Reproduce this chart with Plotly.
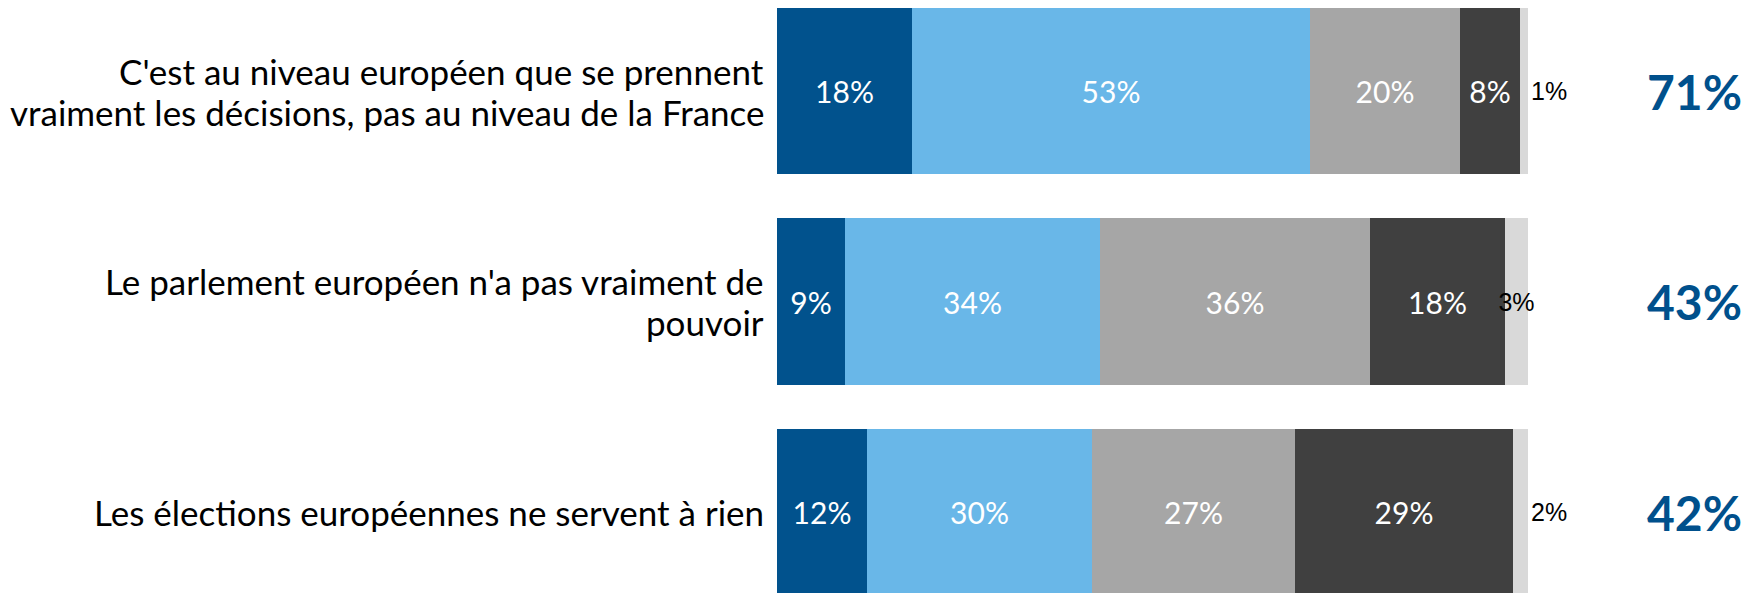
import plotly.graph_objects as go

categories = [
    "C'est au niveau européen que se prennent<br>vraiment les décisions, pas au niveau de la France",
    "Le parlement européen n'a pas vraiment de<br>pouvoir",
    "Les élections européennes ne servent à rien",
]
series_names = ["Tout à fait d'accord", "Plutôt d'accord", "Plutôt pas d'accord",
                "Pas du tout d'accord", "Ne se prononce pas"]
tout_a_fait = [18, 9, 12]
plutot = [53, 34, 30]
plutot_pas = [20, 36, 27]
pas_du_tout = [8, 18, 29]
nsp = [1, 3, 2]
colors = ["#01528D", "#69B7E8", "#A6A6A6", "#404040", "#D9D9D9"]

series = [tout_a_fait, plutot, plutot_pas, pas_du_tout, nsp]
totals = [a + b for a, b in zip(tout_a_fait, plutot)]
ypos = list(range(len(categories)))

fig = go.Figure()
for i, (name, vals, col) in enumerate(zip(series_names, series, colors)):
    last = i == len(series) - 1
    fig.add_trace(go.Bar(
        y=ypos, x=vals, name=name, orientation="h",
        marker=dict(color=col, line=dict(width=0)),
        width=0.79,
        text=[f"{v}%" for v in vals],
        textposition=(["outside", "inside", "outside"] if last else "inside"),
        insidetextanchor="middle",
        textangle=0,
        constraintext="none",
        cliponaxis=False,
        textfont=(dict(family="Liberation Sans, Arial", size=25, color="black") if last
                  else dict(family="Lato", size=30, color="white")),
        hoverinfo="skip",
    ))

ann = []
line_gap = 41
for y, cat in zip(ypos, categories):
    lines = cat.split("<br>")
    n = len(lines)
    for k, ln in enumerate(lines):
        shift = ((n - 1) / 2 - k) * line_gap
        ann.append(dict(x=-1.5, y=y, xref="x", yref="y", text=ln, showarrow=False,
                        xanchor="right", yanchor="middle", align="right", yshift=shift,
                        font=dict(family="Lato", size=35, color="black")))
for y, t in zip(ypos, totals):
    ann.append(dict(x=122.2, y=y, xref="x", yref="y", text=f"<b>{t}%</b>", showarrow=False,
                    xanchor="center", yanchor="middle",
                    font=dict(family="Lato", size=48, color="#00508C")))

fig.update_layout(
    barmode="stack",
    width=1750, height=593,
    margin=dict(l=0, r=0, t=0, b=0),
    paper_bgcolor="white", plot_bgcolor="white",
    showlegend=False,
    xaxis=dict(range=[-102.40, 130.63], visible=False, fixedrange=True),
    yaxis=dict(range=[2.4228, -0.3943], visible=False, fixedrange=True),
    annotations=ann,
    bargap=0,
)

fig.write_html("out.html")
